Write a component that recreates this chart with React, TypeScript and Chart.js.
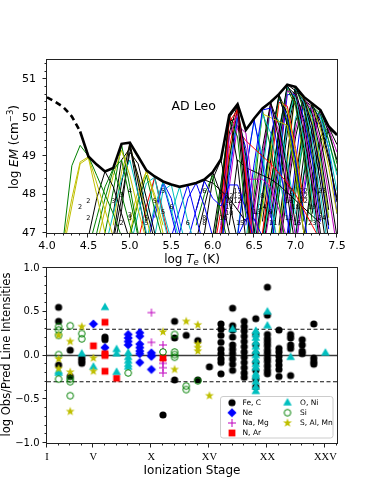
import React, { useEffect, useRef } from 'react';
import { Chart, registerables } from 'chart.js';

Chart.register(...registerables);

const FONT = '"DejaVu Sans", sans-serif';
const SERIF = '"Liberation Serif", "DejaVu Serif", serif';

const COLORS: Record<string, string> = {
  k: '#000000', g: '#008000', y: '#bfbf00', c: '#00bfbf', b: '#0000ff', r: '#ff0000', m: '#bf00bf',
};

// ---------------- top panel: EM distribution & loci ----------------
const emTemps = [4.0, 4.1, 4.2, 4.3, 4.4, 4.5, 4.6, 4.7, 4.8, 4.9, 5.0, 5.1, 5.2, 5.3, 5.4, 5.5, 5.6, 5.7,
  5.8, 5.9, 6.0, 6.1, 6.2, 6.3, 6.4, 6.5, 6.6, 6.7, 6.8, 6.9, 7.0, 7.1, 7.2, 7.3, 7.4, 7.5];
const emValues = [50.53, 50.41, 50.27, 50.03, 49.64, 48.99, 48.78, 48.6, 48.69, 49.32, 49.35, 48.99, 48.63,
  48.47, 48.34, 48.26, 48.2, 48.25, 48.3, 48.39, 48.58, 48.92, 50.07, 50.35, 49.68, 49.98, 50.24, 50.41,
  50.61, 50.86, 50.8, 50.54, 50.37, 50.2, 49.77, 49.55];
const dashedUntil = 4.4;

// [colour, first log T, EM values every 0.1 dex]
type Locus = [string, number, number[]];
const lociCool: Locus[] = [
  ['g', 4.2, [46.9, 48.75, 49.28, 49.0, 48.5, 48.0, 47.5, 46.9]],
  ['y', 4.2, [46.8, 47.9, 48.85, 48.98, 48.3, 47.6, 46.9]],
  ['y', 4.2, [46.6, 47.7, 48.8, 48.95, 48.0, 47.0]],
  ['k', 4.5, [46.9, 47.9, 48.6, 48.2, 47.5, 46.8]],
  ['g', 4.5, [46.6, 47.4, 48.2, 48.68, 48.0, 47.2, 46.5]],
  ['g', 4.6, [47.0, 47.9, 48.65, 48.9, 47.9, 46.9]],
  ['y', 4.6, [46.7, 47.6, 48.5, 49.15, 48.5, 47.6, 46.8]],
  ['g', 4.7, [47.0, 48.1, 49.3, 48.2, 47.0]],
  ['c', 4.7, [46.6, 47.5, 48.4, 48.9, 48.0, 47.0]],
  ['k', 4.8, [46.9, 48.3, 49.35, 48.3, 47.3]],
  ['k', 4.8, [46.5, 47.6, 49.3, 48.0, 46.9]],
  ['k', 4.8, [47.5, 48.9, 49.2, 48.5, 47.6, 46.8]],
  ['y', 4.8, [47.2, 48.6, 49.3, 48.4, 47.4, 46.5]],
  ['k', 4.8, [46.8, 47.9, 49.1, 48.8, 47.9, 47.0]],
];
const lociWarm: Locus[] = [
  ['y', 5.0, [47.0, 47.9, 48.62, 47.9, 47.0]],
  ['y', 5.0, [47.3, 48.1, 48.6, 48.0, 47.2]],
  ['g', 5.0, [46.9, 47.8, 48.5, 47.6, 46.8]],
  ['c', 5.0, [46.6, 47.5, 48.3, 48.45, 47.4, 46.5]],
  ['r', 5.1, [46.8, 47.7, 48.45, 47.5, 46.6]],
  ['c', 5.2, [47.4, 48.45, 47.6, 46.8]],
  ['c', 5.2, [46.8, 47.7, 48.33, 47.6, 46.8]],
  ['b', 5.3, [47.4, 48.33, 47.9, 47.0]],
  ['b', 5.2, [46.5, 47.6, 48.3, 47.5, 46.6]],
  ['c', 5.3, [46.9, 48.1, 48.26, 47.3, 46.5]],
  ['c', 5.5, [47.5, 48.2, 47.3, 46.6]],
  ['b', 5.5, [46.9, 47.6, 48.25, 47.4, 46.6]],
  ['b', 5.6, [47.0, 47.9, 48.3, 47.7, 46.9]],
  ['b', 5.7, [46.8, 47.6, 48.35, 47.9, 47.7, 48.25, 48.25, 47.6, 46.8]],
  ['g', 5.8, [47.2, 48.0, 48.5, 47.5, 46.6]],
  ['k', 5.8, [46.8, 47.7, 48.58, 48.0, 47.0]],
  ['k', 5.9, [47.0, 48.4, 48.9, 47.8, 46.8]],
  ['k', 5.8, [47.6, 48.38, 48.3, 48.1, 47.9, 47.6, 47.3]],
];
const lociMid: Locus[] = [
  ['k', 6.0, [46.5, 48.0, 50.0, 50.3, 48.0, 45.5]],
  ['r', 6.0, [46.4, 47.6, 49.9, 50.2, 48.4, 46.0]],
  ['m', 6.0, [46.0, 47.2, 49.5, 50.1, 48.7, 46.4]],
  ['k', 6.1, [47.8, 50.05, 48.8, 46.8]],
  ['g', 6.0, [46.6, 48.2, 50.0, 49.5, 47.4]],
  ['k', 6.1, [47.2, 49.6, 50.35, 48.2, 46.0]],
  ['r', 6.1, [47.0, 49.2, 50.3, 48.6, 46.6]],
  ['k', 6.1, [46.8, 48.9, 50.25, 49.0, 47.0]],
  ['b', 6.1, [46.5, 48.5, 50.0, 49.2, 47.3]],
  ['c', 6.1, [46.6, 48.7, 50.1, 48.9, 46.9]],
  ['y', 6.1, [46.9, 49.0, 50.2, 48.4, 46.4]],
  ['k', 6.0, [46.9, 48.3, 49.9, 50.0, 47.6]],
  ['m', 6.1, [46.4, 48.2, 49.8, 49.6, 47.8, 46.0]],
];
const lociBroad: Locus[] = [
  ['r', 6.1, [46.8, 50.05, 49.7, 49.4, 49.2, 49.0, 48.8, 48.55, 48.3, 48.0, 47.6, 47.2, 46.8]],
  ['k', 6.2, [47.2, 48.9, 48.7, 48.6, 48.5, 48.4, 48.25, 48.05, 47.85, 47.65, 47.45, 47.25]],
  ['m', 6.3, [47.6, 48.4, 48.4, 48.4, 48.2, 47.6, 46.8]],
  ['b', 6.3, [46.9, 47.37, 47.37, 46.9]],
];
const lociHot: Locus[] = [
  ['b', 6.3, [46.9, 48.6, 49.95, 48.8, 47.5, 46.2]],
  ['c', 6.3, [47.0, 48.7, 49.9, 49.0, 47.8, 46.5]],
  ['b', 6.4, [47.2, 48.8, 50.2, 50.25, 49.0, 47.4, 46.0]],
  ['c', 6.4, [46.8, 48.5, 50.1, 49.6, 48.5, 47.3]],
  ['y', 6.4, [46.6, 48.4, 50.1, 50.0, 49.9, 49.8, 48.6, 47.0]],
  ['g', 6.4, [46.4, 48.0, 50.2, 49.2, 47.8, 46.4]],
  ['k', 6.4, [46.5, 47.8, 49.2, 50.4, 49.4, 48.0, 46.6]],
  ['m', 6.4, [46.3, 47.6, 49.0, 50.35, 49.6, 48.3, 46.9]],
  ['k', 6.5, [47.0, 48.8, 50.38, 49.8, 48.6, 47.2]],
  ['c', 6.5, [46.8, 48.5, 50.3, 49.9, 48.8, 47.5]],
  ['k', 6.5, [46.6, 48.0, 49.4, 50.6, 49.8, 48.5, 47.0]],
  ['g', 6.5, [46.4, 47.8, 49.3, 50.55, 49.9, 48.7, 47.3]],
  ['b', 6.5, [46.5, 47.9, 49.5, 50.5, 50.0, 48.9, 47.5, 46.0]],
  ['y', 6.5, [46.3, 47.6, 49.1, 50.5, 50.2, 49.1, 47.6]],
  ['k', 6.6, [47.3, 48.9, 50.6, 50.1, 48.9, 47.4]],
  ['r', 6.6, [47.0, 48.6, 50.4, 50.3, 49.2, 47.8]],
  ['k', 6.6, [46.9, 48.3, 49.6, 50.85, 50.4, 49.2, 47.6]],
  ['c', 6.6, [46.7, 48.1, 49.5, 50.8, 50.5, 49.4, 47.9, 46.3]],
  ['k', 6.6, [46.5, 47.9, 49.3, 50.8, 50.6, 49.6, 48.2, 46.6]],
  ['m', 6.6, [46.4, 47.7, 49.1, 50.7, 50.6, 49.8, 48.4, 46.8]],
  ['g', 6.6, [46.8, 48.2, 49.7, 50.75, 50.3, 49.0, 47.3]],
  ['y', 6.6, [46.6, 48.0, 49.4, 50.8, 50.4, 49.3, 47.8]],
  ['k', 6.7, [47.4, 48.9, 50.86, 50.7, 49.9, 48.6, 47.0]],
  ['b', 6.7, [47.2, 48.7, 50.6, 50.6, 50.0, 48.9, 47.3]],
  ['k', 6.7, [46.9, 48.4, 50.0, 50.8, 50.3, 49.2, 47.7, 46.2]],
  ['c', 6.7, [46.7, 48.2, 49.8, 50.75, 50.4, 49.4, 48.0, 46.5]],
  ['k', 6.7, [46.5, 48.0, 49.6, 50.7, 50.45, 49.6, 48.3, 46.8]],
  ['g', 6.7, [46.8, 48.3, 49.9, 50.8, 50.2, 49.0, 47.5]],
  ['k', 6.8, [47.2, 49.0, 50.75, 50.5, 49.8, 48.6, 47.2]],
  ['y', 6.8, [47.0, 48.8, 50.7, 50.5, 49.9, 48.8, 47.4]],
  ['k', 6.8, [46.8, 48.4, 49.9, 50.5, 50.1, 49.1, 47.6]],
  ['m', 6.8, [46.6, 48.2, 49.7, 50.5, 50.2, 49.3, 48.0, 46.6]],
  ['c', 6.8, [46.9, 48.5, 50.0, 50.5, 50.0, 48.9, 47.4]],
  ['k', 6.8, [46.5, 48.0, 49.5, 50.45, 50.3, 49.5, 48.3, 46.9]],
  ['b', 6.9, [47.0, 48.8, 50.5, 49.8, 48.6, 47.1]],
  ['k', 6.9, [46.8, 48.4, 49.8, 50.35, 49.9, 49.0, 47.8]],
  ['c', 6.9, [46.6, 48.2, 49.6, 50.3, 50.0, 49.2, 48.1]],
  ['y', 6.9, [46.9, 48.5, 49.9, 50.35, 49.7, 48.7, 47.5]],
  ['g', 6.9, [46.5, 48.0, 49.5, 50.3, 50.1, 49.4, 48.6]],
  ['k', 7.0, [47.3, 49.0, 50.3, 49.8, 48.9, 47.9]],
  ['k', 7.0, [46.9, 48.5, 49.7, 50.2, 49.6, 48.9]],
  ['m', 7.0, [46.6, 48.2, 49.5, 50.15, 49.7, 49.1]],
  ['c', 7.0, [47.0, 48.6, 49.8, 50.2, 49.4, 48.5]],
  ['b', 7.0, [46.7, 48.0, 49.4, 50.1, 49.2, 47.5]],
  ['k', 7.1, [46.9, 48.4, 49.5, 49.75, 49.3]],
  ['g', 7.1, [46.8, 48.2, 49.4, 49.7, 48.8]],
  ['k', 7.2, [47.5, 49.0, 49.7, 49.55]],
];

const labelTemps = [4.4, 4.5, 4.5, 4.8, 4.9, 5.0, 5.0, 5.0, 4.9, 5.2, 5.2, 5.3, 5.4, 5.4, 5.5, 5.7, 5.9, 5.9, 5.9,
  6.13, 6.2, 6.2, 6.2, 6.2, 6.3, 6.3, 6.3, 6.33, 6.53, 6.6, 6.6, 6.7, 6.73, 6.92, 6.92, 6.92, 6.92, 7.02, 7.0,
  7.1, 7.1, 7.1, 7.2, 7.2, 7.32, 7.32];
const labelEMs = [47.67, 47.82, 47.39, 47.82, 47.97, 48.09, 47.47, 47.37, 47.24, 47.39, 47.24, 47.82, 48.09,
  47.53, 47.67, 47.24, 48.09, 47.39, 47.24, 47.39, 47.95, 47.82, 47.67, 47.52, 48.08, 47.95, 47.82, 47.24,
  47.53, 47.95, 47.67, 47.53, 47.24, 48.09, 47.95, 47.82, 47.39, 47.24, 47.67, 48.09, 47.95, 47.82, 47.67,
  47.24, 48.09, 47.39];
const labelTexts = ['2', '2', '2', '3', '3', '4', '3', '3', '2', '5', '5', '5', '5', '5', '6', '6', '6', '8', '8',
  '10', '12', '12', '11', '10', '13', '13', '12', '15', '13', '8', '14', '9', '11', '17', '15', '16', '12', '15',
  '18', '22', '22', '22', '19', '23', '23', '24'];

// ---------------- bottom panel: obs / pred ratios ----------------
const stageTicks = [1, 5, 10, 15, 20, 25];
const stageLabels = ['I', 'V', 'X', 'XV', 'XX', 'XXV'];
const zeroLevel = [0];
const limitLevels = [0.3, -0.3];

const feC: [number, number][] = [
  [2, 0.55], [2, 0.39], [2, -0.11], [3, 0.06], [3, -0.24], [4, -0.03], [4, -0.06], [4, -0.09],
  [6, 0.21], [6, 0.18], [11, -0.68], [12, 0.39], [12, 0.2], [12, -0.28], [13, 0.23], [14, 0.17], [14, -0.28],
  [15, -0.13],
  [16, 0.36], [16, 0.3], [16, 0.23], [16, 0.15], [16, 0.07], [16, 0.02], [16, -0.04], [16, -0.08], [16, -0.21],
  [17, 0.54], [17, 0.34], [17, 0.29], [17, 0.21], [17, 0.12], [17, 0.07], [17, 0.02], [17, -0.04], [17, -0.1], [17, -0.17],
  [18, 0.39], [18, 0.33], [18, 0.28], [18, 0.22], [18, 0.16], [18, 0.1], [18, 0.04], [18, -0.02], [18, -0.08],
  [18, -0.14], [18, -0.2], [18, -0.25],
  [19, 0.42], [19, 0.24], [19, 0.12], [19, 0.02], [19, -0.08], [19, -0.17], [19, -0.27], [19, -0.36],
  [20, 0.78], [20, 0.46], [20, 0.24], [20, 0.19], [20, 0.15], [20, 0.11], [20, 0.06], [20, 0.02], [20, -0.03],
  [20, -0.07], [20, -0.12], [20, -0.17], [20, -0.21],
  [21, 0.29], [21, 0.08], [21, 0.04], [21, -0.01], [21, -0.06], [21, -0.11], [21, -0.16], [21, -0.24],
  [22, 0.24], [22, 0.2], [22, 0.12], [22, 0.08], [22, -0.23],
  [23, 0.18], [23, 0.12], [23, 0.05], [23, 0.02],
  [24, 0.36], [24, -0.03], [24, -0.07], [24, -0.1],
];
const ne: [number, number][] = [
  [5, 0.36], [6, 0.09], [8, 0.24], [8, 0.2], [8, 0.16], [8, 0.12],
  [9, 0.26], [9, 0.22], [9, 0.13], [9, 0.09], [9, 0.05], [9, 0.02], [9, -0.08],
  [10, 0.03], [10, 0.0], [10, -0.01], [10, -0.16],
];
const naMg: [number, number][] = [
  [10, 0.49], [10, 0.15], [11, 0.12], [11, -0.05], [11, -0.09], [11, -0.14], [11, -0.2],
];
const nAr: [number, number][] = [
  [5, 0.11], [6, 0.38], [6, 0.02], [6, 0.0], [6, -0.18], [7, -0.26], [11, -0.03],
];
const oNi: [number, number][] = [
  [2, -0.18], [2, -0.2], [4, 0.02], [5, -0.13], [6, 0.55], [7, 0.07], [7, 0.02], [7, -0.19],
  [8, 0.03], [8, -0.02], [8, -0.06], [8, -0.1], [8, -0.13], [17, 0.3],
  [19, 0.28], [19, 0.24], [19, 0.2], [19, 0.15], [19, 0.1], [19, 0.05], [19, 0.0], [19, -0.05], [19, -0.1],
  [19, -0.14], [19, -0.21], [19, -0.24], [19, -0.3], [19, -0.36], [19, -0.41],
  [20, 0.5], [20, 0.34], [22, -0.02], [25, 0.03],
];
const si: [number, number][] = [
  [2, 0.33], [2, 0.29], [2, 0.23], [2, 0.01], [2, -0.27], [3, 0.34], [3, -0.27], [3, -0.3], [3, -0.46],
  [4, 0.25], [4, 0.19], [8, -0.2], [11, 0.04], [12, 0.24], [12, 0.04], [12, 0.01], [12, -0.02],
  [13, -0.35], [13, -0.39], [14, -0.29],
];
const sAlMn: [number, number][] = [
  [2, 0.23], [2, -0.04], [2, -0.15], [3, 0.16], [3, -0.19], [3, -0.64], [4, 0.33], [5, -0.03], [5, -0.18],
  [11, 0.27], [12, -0.16], [13, 0.39], [14, 0.35], [14, 0.13], [14, 0.09], [14, 0.05], [15, -0.46],
];

const seriesNames = ['Fe, C', 'Ne', 'Na, Mg', 'N, Ar', 'O, Ni', 'Si', 'S, Al, Mn'];
const seriesData = [feC, ne, naMg, nAr, oNi, si, sAlMn];
const seriesMarkers = ['circle', 'diamond', 'plus', 'square', 'triangle', 'ring', 'star'];
const seriesColors = [COLORS.k, COLORS.b, COLORS.m, COLORS.r, COLORS.c, COLORS.g, COLORS.y];

// ---------------- helpers ----------------
function makeMarker(kind: string, color: string): HTMLCanvasElement {
  const c = document.createElement('canvas');
  c.width = 14; c.height = 14;
  const g = c.getContext('2d') as CanvasRenderingContext2D;
  g.translate(7, 7);
  g.fillStyle = color; g.strokeStyle = color; g.lineWidth = 1;
  g.beginPath();
  if (kind === 'circle') { g.arc(0, 0, 3.6, 0, Math.PI * 2); g.fill(); }
  else if (kind === 'ring') { g.arc(0, 0, 3.3, 0, Math.PI * 2); g.stroke(); }
  else if (kind === 'diamond') { g.moveTo(0, -4.6); g.lineTo(4.6, 0); g.lineTo(0, 4.6); g.lineTo(-4.6, 0); g.closePath(); g.fill(); }
  else if (kind === 'plus') { g.moveTo(-4, 0); g.lineTo(4, 0); g.moveTo(0, -4); g.lineTo(0, 4); g.stroke(); }
  else if (kind === 'square') { g.rect(-3.4, -3.4, 6.8, 6.8); g.fill(); }
  else if (kind === 'triangle') { g.moveTo(0, -4.8); g.lineTo(4.3, 2.7); g.lineTo(-4.3, 2.7); g.closePath(); g.fill(); }
  else if (kind === 'star') {
    for (let i = 0; i < 10; i++) {
      const r = i % 2 ? 1.9 : 4.7;
      const a = -Math.PI / 2 + (i * Math.PI) / 5;
      if (i === 0) g.moveTo(r * Math.cos(a), r * Math.sin(a)); else g.lineTo(r * Math.cos(a), r * Math.sin(a));
    }
    g.closePath(); g.fill();
  }
  return c;
}

type Seg = { t: string; f: string; dy?: number };
function drawRich(ctx: CanvasRenderingContext2D, segs: Seg[], cx: number, cy: number, rot: number) {
  ctx.save();
  ctx.translate(cx, cy);
  if (rot) ctx.rotate(rot);
  let total = 0;
  for (const s of segs) { ctx.font = s.f; total += ctx.measureText(s.t).width; }
  let x = -total / 2;
  ctx.textBaseline = 'middle'; ctx.textAlign = 'left'; ctx.fillStyle = '#000';
  for (const s of segs) { ctx.font = s.f; ctx.fillText(s.t, x, s.dy || 0); x += ctx.measureText(s.t).width; }
  ctx.restore();
}

function drawFrameTicks(chart: any, xs: number[], xMajor: (v: number) => boolean, ys: number[], yMajor: (v: number) => boolean) {
  const { ctx, chartArea: a, scales } = chart;
  ctx.save();
  ctx.strokeStyle = '#222';
  ctx.lineWidth = 1;
  ctx.strokeRect(a.left - 0.5, a.top - 0.5, a.right - a.left + 1, a.bottom - a.top + 1);
  ctx.beginPath();
  for (const v of xs) {
    const p = Math.round(scales.x.getPixelForValue(v)) - 0.5;
    const len = xMajor(v) ? 4.5 : 2.5;
    ctx.moveTo(p, a.bottom); ctx.lineTo(p, a.bottom + len);
  }
  for (const v of ys) {
    const p = Math.round(scales.y.getPixelForValue(v)) - 0.5;
    const len = yMajor(v) ? 4.5 : 2.5;
    ctx.moveTo(a.left, p); ctx.lineTo(a.left - len, p);
  }
  ctx.stroke();
  ctx.restore();
}

const near = (v: number, step: number) => Math.abs(v / step - Math.round(v / step)) < 1e-6;

export default function App() {
  const topRef = useRef<HTMLCanvasElement>(null);
  const botRef = useRef<HTMLCanvasElement>(null);

  useEffect(() => {
    // ---------- top chart ----------
    const allLoci = [...lociCool, ...lociWarm, ...lociMid, ...lociBroad, ...lociHot];
    const lociSets = allLoci.map(([c, t0, em]) => ({
      type: 'line' as const,
      data: em.map((y, i) => ({ x: Math.round((t0 + 0.1 * i) * 10) / 10, y })),
      borderColor: COLORS[c],
      borderWidth: 1,
      pointRadius: 0,
      tension: 0,
      order: 2,
    }));
    const envelope = {
      type: 'line' as const,
      data: emTemps.map((t, i) => ({ x: t, y: emValues[i] })),
      borderColor: '#000',
      borderWidth: 2.6,
      pointRadius: 0,
      tension: 0,
      order: 0,
      segment: { borderDash: (ctx: any) => (emTemps[ctx.p1DataIndex] <= dashedUntil + 1e-6 ? [6, 4] : undefined) },
    };
    const xsTop: number[] = []; for (let i = 0; i <= 35; i++) xsTop.push(4 + i * 0.1);
    const ysTop: number[] = []; for (let i = 0; i <= 22; i++) ysTop.push(47 + i * 0.2);

    const topPlugin = {
      id: 'topDecor',
      afterDatasetsDraw(chart: any) {
        drawFrameTicks(chart, xsTop, (v) => near(v - 4, 0.5), ysTop, (v) => near(v, 1));
      },
      afterDraw(chart: any) {
        const { ctx, scales } = chart;
        ctx.save();
        ctx.fillStyle = '#000';
        ctx.font = `6.5px ${FONT}`;
        ctx.textAlign = 'center'; ctx.textBaseline = 'middle';
        labelTexts.forEach((t, i) => {
          ctx.fillText(t, scales.x.getPixelForValue(labelTemps[i]), scales.y.getPixelForValue(labelEMs[i]));
        });
        ctx.font = `12.5px ${FONT}`;
        ctx.fillText('AD Leo', scales.x.getPixelForValue(5.77), scales.y.getPixelForValue(50.29));
        ctx.restore();
        const n = `12px ${FONT}`, it = `italic 12px ${FONT}`;
        drawRich(ctx, [{ t: 'log ', f: n }, { t: 'EM', f: it }, { t: ' (cm', f: n }, { t: '−3', f: `8.5px ${FONT}`, dy: -4 }, { t: ')', f: n }], 15, 147, -Math.PI / 2);
        drawRich(ctx, [{ t: 'log ', f: n }, { t: 'T', f: it }, { t: 'e', f: `italic 8.5px ${FONT}`, dy: 3 }, { t: ' (K)', f: n }], 192, 260, 0);
      },
    };

    const top = new Chart(topRef.current as HTMLCanvasElement, {
      type: 'line',
      data: { datasets: [...lociSets, envelope] as any },
      options: {
        animation: false,
        responsive: false,
        events: [],
        layout: { padding: { left: 0, right: 37, top: 60, bottom: 0 } },
        plugins: { legend: { display: false }, tooltip: { enabled: false } },
        scales: {
          x: {
            type: 'linear', min: 4, max: 7.5,
            grid: { display: false, drawTicks: false }, border: { display: false },
            ticks: { stepSize: 0.5, includeBounds: false, autoSkip: false, maxRotation: 0, padding: 7, color: '#000',
              font: { family: FONT, size: 11 }, callback: (v: any) => Number(v).toFixed(1) },
            afterFit: (s: any) => { s.height = 37; },
          },
          y: {
            type: 'linear', min: 47, max: 51.5,
            grid: { display: false, drawTicks: false }, border: { display: false },
            ticks: { stepSize: 1, includeBounds: false, padding: 11, color: '#000',
              font: { family: FONT, size: 11 }, callback: (v: any) => String(v) },
            afterFit: (s: any) => { s.width = 47; },
          },
        },
      } as any,
      plugins: [topPlugin],
    });

    // ---------- bottom chart ----------
    const markerImgs = seriesMarkers.map((m, i) => makeMarker(m, seriesColors[i]));
    const scatterSets = seriesData.map((pts, i) => ({
      type: 'scatter' as const,
      label: seriesNames[i],
      data: pts.map(([x, y]) => ({ x, y })),
      pointStyle: markerImgs[i],
      pointRadius: 4,
      showLine: false,
      order: 10 - i,
    }));
    const refSets = [
      ...zeroLevel.map((v) => ({
        type: 'line' as const, data: [{ x: 1, y: v }, { x: 26, y: v }], borderColor: '#3c3c3c', borderWidth: 1.6,
        pointRadius: 0, order: 20,
      })),
      ...limitLevels.map((v) => ({
        type: 'line' as const, data: [{ x: 1, y: v }, { x: 26, y: v }], borderColor: '#111', borderWidth: 1.2,
        borderDash: [4, 2.5], pointRadius: 0, order: 20,
      })),
    ];
    const xsBot: number[] = []; for (let i = 1; i <= 26; i++) xsBot.push(i);
    const ysBot: number[] = []; for (let i = 0; i <= 20; i++) ysBot.push(-1 + i * 0.1);

    const botPlugin = {
      id: 'botDecor',
      afterDatasetsDraw(chart: any) {
        drawFrameTicks(chart, xsBot, (v) => stageTicks.includes(v), ysBot, (v) => near(v, 0.5));
      },
      afterDraw(chart: any) {
        const { ctx } = chart;
        // legend
        ctx.save();
        const lx = 220.5, ly = 146.5, lw = 112.5, lh = 41.5, r = 2.5;
        ctx.beginPath();
        ctx.moveTo(lx + r, ly); ctx.lineTo(lx + lw - r, ly); ctx.arcTo(lx + lw, ly, lx + lw, ly + r, r);
        ctx.lineTo(lx + lw, ly + lh - r); ctx.arcTo(lx + lw, ly + lh, lx + lw - r, ly + lh, r);
        ctx.lineTo(lx + r, ly + lh); ctx.arcTo(lx, ly + lh, lx, ly + lh - r, r);
        ctx.lineTo(lx, ly + r); ctx.arcTo(lx, ly, lx + r, ly, r); ctx.closePath();
        ctx.fillStyle = 'rgba(255,255,255,0.85)'; ctx.fill();
        ctx.strokeStyle = '#cccccc'; ctx.lineWidth = 1; ctx.stroke();
        ctx.font = `7.5px ${FONT}`; ctx.fillStyle = '#000'; ctx.textBaseline = 'middle'; ctx.textAlign = 'left';
        const rowsY = [152.7, 162.7, 173, 183];
        seriesNames.forEach((name, i) => {
          const col = i < 4 ? 0 : 1;
          const row = i < 4 ? i : i - 4;
          const mx = col === 0 ? 232 : 287.5;
          const tx = col === 0 ? 242.5 : 300;
          const img = markerImgs[i];
          ctx.drawImage(img, mx - img.width / 2, rowsY[row] - img.height / 2);
          ctx.fillText(name, tx, rowsY[row]);
        });
        ctx.restore();
        const n = `11.5px ${FONT}`;
        drawRich(ctx, [{ t: 'log Obs/Pred Line Intensities', f: n }], 7, 104.5, -Math.PI / 2);
        drawRich(ctx, [{ t: 'Ionization Stage', f: `12px ${FONT}` }], 192, 220.7, 0);
      },
    };

    const bot = new Chart(botRef.current as HTMLCanvasElement, {
      type: 'scatter',
      data: { datasets: [...refSets, ...scatterSets] as any },
      options: {
        animation: false,
        responsive: false,
        events: [],
        layout: { padding: { left: 0, right: 37, top: 18, bottom: 0 } },
        plugins: { legend: { display: false }, tooltip: { enabled: false } },
        scales: {
          x: {
            type: 'linear', min: 1, max: 26,
            grid: { display: false, drawTicks: false }, border: { display: false },
            afterBuildTicks: (s: any) => { s.ticks = stageTicks.map((v) => ({ value: v })); },
            ticks: { autoSkip: false, maxRotation: 0, padding: 8, color: '#000', font: { family: SERIF, size: 10.5 },
              callback: (v: any) => stageLabels[stageTicks.indexOf(Number(v))] },
            afterFit: (s: any) => { s.height = 55; },
          },
          y: {
            type: 'linear', min: -1, max: 1,
            grid: { display: false, drawTicks: false }, border: { display: false },
            ticks: { stepSize: 0.5, includeBounds: false, padding: 7.5, color: '#000', font: { family: FONT, size: 10 },
              callback: (v: any) => { const x = Number(v); return (x < -1e-9 ? '−' : '') + Math.abs(x).toFixed(1); } },
            afterFit: (s: any) => { s.width = 47; },
          },
        },
      } as any,
      plugins: [botPlugin],
    });

    return () => { top.destroy(); bot.destroy(); };
  }, []);

  return (
    <div style={{ position: 'absolute', left: 0, top: 0, width: 374, height: 498, background: '#fff' }}>
      <canvas ref={topRef} width={374} height={270} style={{ position: 'absolute', left: 0, top: 0, width: 374, height: 270 }} />
      <canvas ref={botRef} width={374} height={248} style={{ position: 'absolute', left: 0, top: 250, width: 374, height: 248 }} />
    </div>
  );
}
